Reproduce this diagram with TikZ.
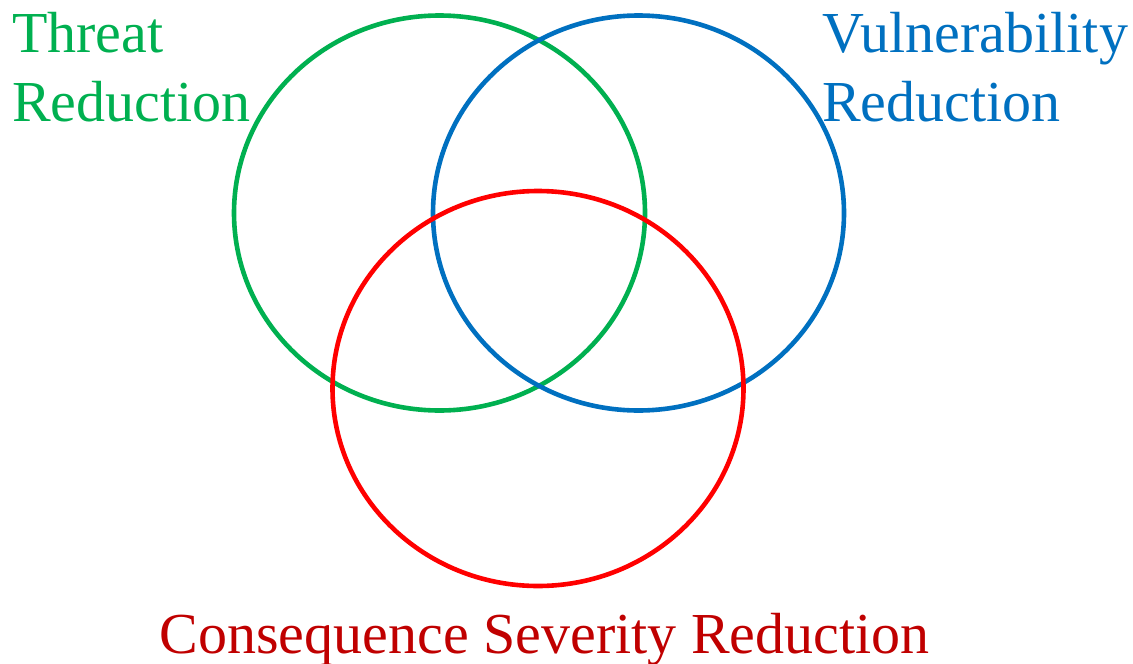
\documentclass[tikz,border=0pt]{standalone}
\usepackage{fontspec}
\setmainfont{Liberation Serif}
\usetikzlibrary{shapes.geometric}
\definecolor{cgreen}{HTML}{00B050}
\definecolor{cblue}{HTML}{0070C0}
\definecolor{cred}{HTML}{FF0000}
\definecolor{ctext}{HTML}{C00000}
\begin{document}
\begin{tikzpicture}[x=1pt,y=-1pt,
  ring/.style={ellipse,draw,line width=4.6pt,inner sep=0pt,minimum width=411pt,minimum height=395pt},
  lab/.style={inner sep=0pt,anchor=base west,font=\fontsize{58}{69}\selectfont}]
\useasboundingbox (0,0) rectangle (1133,664);
\node[ring,draw=cgreen] (threat) at (439.5,213) {};
\node[ring,draw=cblue] (vuln) at (638.5,213) {};
\node[ring,draw=cred] (cons) at (538,388.5) {};
\node[lab,text=cgreen] (t1) at (12,52) {Threat};
\node[lab,text=cgreen] (t2) at (12,121) {Reduction};
\node[lab,text=cblue] (v1) at (822,52) {Vulnerability};
\node[lab,text=cblue] (v2) at (822,121) {Reduction};
\node[lab,anchor=base,text=ctext] (c1) at (544.5,653) {Consequence Severity Reduction};
\end{tikzpicture}
\end{document}
